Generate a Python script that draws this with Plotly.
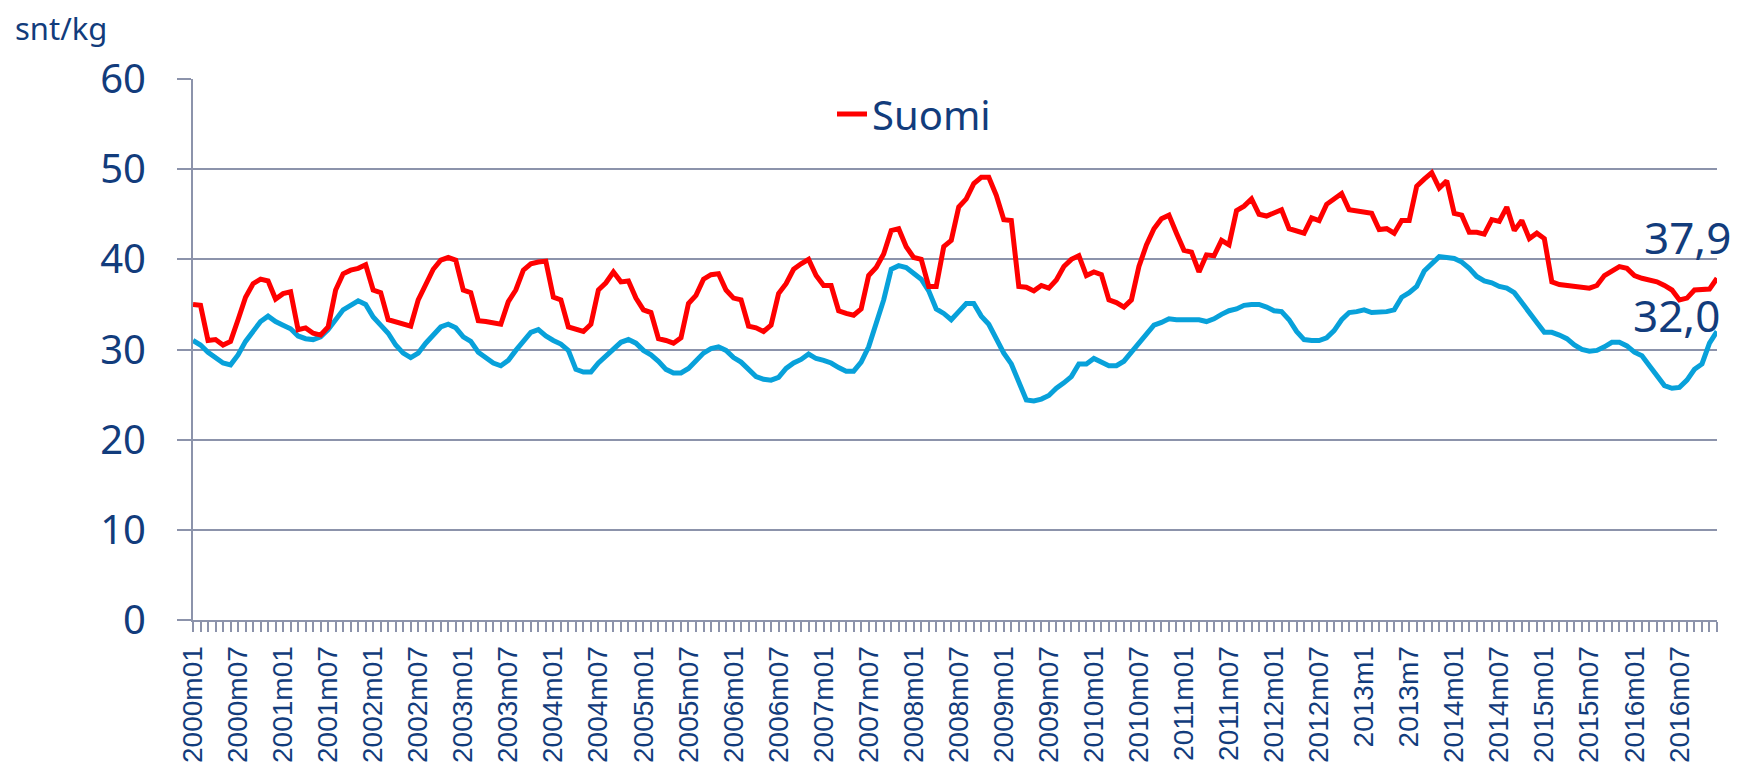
import plotly.graph_objects as go

# ---------------- data (snt/kg), monthly 2000m01 .. 2016m12 ----------------
suomi = [
    35.0, 34.9, 31.0, 31.1, 30.5, 30.9, 33.3, 35.8, 37.3, 37.8, 37.6, 35.6,
    36.2, 36.4, 32.2, 32.4, 31.8, 31.6, 32.5, 36.6, 38.4, 38.8, 39.0, 39.4,
    36.6, 36.3, 33.3, 33.1, 32.8, 32.6, 35.5, 37.3, 38.9, 39.9, 40.2, 39.9,
    36.6, 36.3, 33.2, 33.1, 33.0, 32.8, 35.3, 36.6, 38.8, 39.5, 39.7, 39.8,
    35.8, 35.5, 32.5, 32.3, 32.0, 32.8, 36.6, 37.4, 38.6, 37.5, 37.6, 35.7,
    34.4, 34.1, 31.2, 31.0, 30.7, 31.3, 35.1, 36.0, 37.8, 38.3, 38.4, 36.6,
    35.7, 35.5, 32.6, 32.4, 32.0, 32.7, 36.2, 37.3, 38.9, 39.5, 40.0, 38.2,
    37.1, 37.1, 34.3, 34.0, 33.8, 34.5, 38.2, 39.1, 40.6, 43.2, 43.4, 41.4,
    40.2, 40.0, 37.0, 37.0, 41.4, 42.1, 45.8, 46.7, 48.4, 49.1, 49.1, 47.1,
    44.4, 44.3, 37.0, 36.9, 36.5, 37.1, 36.8, 37.7, 39.2, 40.0, 40.4, 38.2,
    38.6, 38.3, 35.5, 35.2, 34.7, 35.5, 39.2, 41.6, 43.4, 44.5, 44.9, 42.9,
    41.0, 40.8, 38.6, 40.5, 40.4, 42.1, 41.6, 45.4, 45.9, 46.7, 45.0, 44.8,
    45.2, 45.5, 43.4, 43.2, 42.9, 44.6, 44.3, 46.1, 46.7, 47.3, 45.5, 45.4,
    45.2, 45.1, 43.3, 43.4, 42.9, 44.3, 44.3, 48.1, 48.9, 49.6, 47.9, 48.7,
    45.1, 44.9, 43.0, 43.0, 42.8, 44.4, 44.2, 45.8, 43.2, 44.3, 42.3, 42.9,
    42.3, 37.5, 37.2, 37.1, 36.9, 36.8, 36.8, 37.1, 38.2, 38.7, 39.2, 39.0,
    38.2, 37.9, 37.7, 37.5, 37.1, 36.6, 35.5, 35.7, 36.6, 36.7, 36.7, 37.9,
]

eu = [
    31.0, 30.5, 29.7, 29.1, 28.5, 28.3, 29.4, 30.9, 31.9, 33.1, 33.7, 33.1,
    32.7, 32.3, 31.5, 31.2, 31.1, 31.4, 32.2, 33.4, 34.4, 34.9, 35.4, 35.0,
    33.6, 32.7, 31.8, 30.5, 29.6, 29.1, 29.6, 30.7, 31.6, 32.5, 32.8, 32.4,
    31.4, 30.9, 29.7, 29.1, 28.5, 28.2, 28.8, 29.9, 30.9, 31.9, 32.2, 31.5,
    31.0, 30.6, 29.9, 27.8, 27.5, 27.5, 28.5, 29.3, 30.1, 30.8, 31.1, 30.7,
    29.9, 29.4, 28.7, 27.8, 27.4, 27.4, 27.9, 28.8, 29.6, 30.1, 30.3, 29.9,
    29.1, 28.6, 27.8, 27.0, 26.7, 26.6, 26.9, 27.9, 28.5, 28.9, 29.5, 29.0,
    28.8, 28.5, 28.0, 27.6, 27.6, 28.6, 30.3, 32.7, 35.5, 38.9, 39.3, 39.1,
    38.5, 37.8, 36.5, 34.5, 34.0, 33.3, 34.2, 35.1, 35.1, 33.7, 32.8, 31.2,
    29.6, 28.4, 26.3, 24.4, 24.3, 24.5, 24.9, 25.7, 26.3, 27.0, 28.4, 28.4,
    29.0, 28.6, 28.2, 28.2, 28.7, 29.7, 30.7, 31.8, 32.7, 33.0, 33.4, 33.3,
    33.3, 33.4, 33.3, 33.1, 33.4, 33.9, 34.3, 34.5, 34.9, 35.0, 35.0, 34.7,
    34.3, 34.2, 33.3, 32.0, 31.1, 31.0, 31.0, 31.3, 32.1, 33.3, 34.1, 34.2,
    34.4, 34.1, 34.1, 34.2, 34.4, 35.8, 36.3, 37.0, 38.7, 39.6, 40.3, 40.2,
    40.1, 39.7, 39.0, 38.1, 37.6, 37.4, 37.0, 36.8, 36.3, 35.2, 34.2, 33.0,
    31.9, 31.9, 31.6, 31.2, 30.5, 30.0, 29.8, 29.9, 30.3, 30.8, 30.8, 30.4,
    29.7, 29.3, 28.2, 27.1, 26.0, 25.7, 25.8, 26.6, 27.8, 28.4, 30.7, 32.0,
]

tick_labels = [
    "2000m01", "2000m07", "2001m01", "2001m07", "2002m01", "2002m07",
    "2003m01", "2003m07", "2004m01", "2004m07", "2005m01", "2005m07",
    "2006m01", "2006m07", "2007m01", "2007m07", "2008m01", "2008m07",
    "2009m01", "2009m07", "2010m01", "2010m07", "2011m01", "2011m07",
    "2012m01", "2012m07", "2013m1", "2013m7", "2014m01", "2014m07",
    "2015m01", "2015m07", "2016m01", "2016m07",
]
label_step = 6
end_labels = ["37,9", "32,0"]
unit_label = "snt/kg"

# ---------------- styling ----------------
NAVY = "#123C7C"
GRID = "#8C93AB"
RED = "#FF0000"
BLUE = "#08A1DA"
FONT = "Noto Sans"

W, H = 1738, 766
L, R, T, B = 193, 1717, 79, 620


def px_x(p):
    return (p - L) / (R - L)


def px_y(p):
    return (B - p) / (B - T)


x_idx = list(range(len(suomi)))
tickvals = [i * label_step for i in range(len(tick_labels))]

fig = go.Figure()
fig.add_trace(go.Scatter(
    x=x_idx, y=eu, mode="lines", name="EU", showlegend=False,
    line=dict(color=BLUE, width=5),
))
fig.add_trace(go.Scatter(
    x=x_idx, y=suomi, mode="lines", name="Suomi",
    line=dict(color=RED, width=5),
))

fig.update_xaxes(
    range=[0, len(suomi) - 1],
    tickmode="array", tickvals=tickvals, ticktext=tick_labels,
    tickangle=-90,
    tickfont=dict(family="Liberation Sans", size=28, color=NAVY),
    showline=True, linecolor=GRID, linewidth=2,
    ticks="outside", ticklen=10, tickwidth=1.5, tickcolor=GRID,
    minor=dict(dtick=1, tick0=0, ticks="outside", ticklen=10,
               tickwidth=1.5, tickcolor=GRID, showgrid=False),
    showgrid=False, zeroline=False,
    automargin=False, ticklabelstandoff=3,
)
fig.update_yaxes(
    range=[0, 60], dtick=10, tick0=0,
    tickfont=dict(family=FONT, size=40, color=NAVY),
    showgrid=True, gridcolor=GRID, gridwidth=2,
    showline=True, linecolor=GRID, linewidth=2,
    ticks="outside", ticklen=14, tickwidth=2, tickcolor=GRID,
    ticklabelstandoff=23,
    zeroline=False, automargin=False,
)

fig.add_annotation(x=x_idx[-1], y=suomi[-1], xref="x", yref="y",
                   text=end_labels[0], showarrow=False,
                   xanchor="right", yanchor="middle", xshift=16, yshift=41,
                   font=dict(family=FONT, size=44, color=NAVY))
fig.add_annotation(x=x_idx[-1], y=eu[-1], xref="x", yref="y",
                   text=end_labels[1], showarrow=False,
                   xanchor="right", yanchor="middle", xshift=5, yshift=16,
                   font=dict(family=FONT, size=44, color=NAVY))
fig.add_annotation(x=px_x(13), y=px_y(28), xref="paper", yref="paper",
                   text=unit_label, showarrow=False,
                   xanchor="left", yanchor="middle",
                   font=dict(family=FONT, size=31, color=NAVY))

fig.update_layout(
    width=W, height=H, autosize=False,
    margin=dict(l=L, r=W - R, t=T, b=H - B, pad=0),
    paper_bgcolor="white", plot_bgcolor="white",
    showlegend=True,
    legend=dict(x=px_x(832), y=px_y(114), xanchor="left", yanchor="middle",
                bgcolor="rgba(0,0,0,0)",
                font=dict(family=FONT, size=40, color=NAVY)),
)

fig.write_html(
    "out.html",
    config={"displayModeBar": False},
    post_script="document.body.style.margin='0';document.body.style.overflow='hidden';",
)
